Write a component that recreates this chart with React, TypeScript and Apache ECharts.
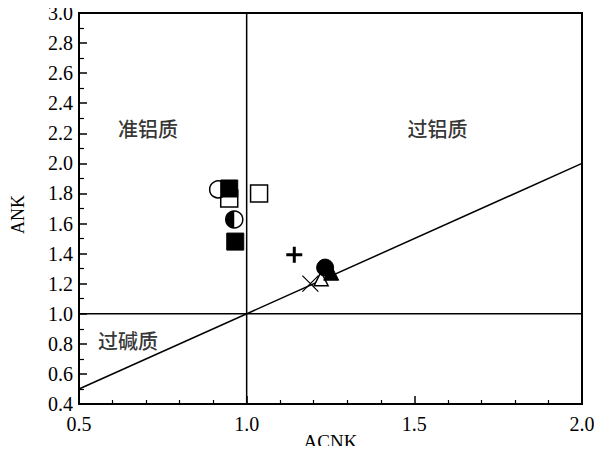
import React, { useEffect, useRef } from "react";
import * as echarts from "echarts";

// Sample points (ACNK, ANK)
const openCircle = [[0.915, 1.827]];
const openSquare = [[0.948, 1.767], [1.037, 1.8]];
const filledSquare = [[0.948, 1.833], [0.966, 1.48]];
const halfCircle = [[0.963, 1.627]];
const plusPts = [[1.142, 1.393]];
const openTriangle = [[1.222, 1.233]];
const crossPts = [[1.19, 1.2]];
const filledTriangle = [[1.252, 1.273]];
const filledCircle = [[1.234, 1.307]];

// Diagram boundaries
const lineACNK1 = [[1.0, 0.4], [1.0, 3.0]];
const lineANK1 = [[0.5, 1.0], [2.0, 1.0]];
const lineDiag = [[0.5, 0.5], [2.0, 2.0]];

// Field labels
const fieldNames = ["准铝质", "过铝质", "过碱质"];
const fieldPos = [[0.706, 2.233], [1.569, 2.233], [0.646, 0.82]];

const serif = "'Liberation Serif', 'DejaVu Serif', serif";

export default function App() {
  const ref = useRef<HTMLDivElement>(null);
  useEffect(() => {
    if (!ref.current) return;
    const chart = echarts.init(ref.current, null, { renderer: "svg" });
    const lineStyle = { color: "#000", width: 1.5 };
    const refLine = (data: number[][]) => ({
      type: "line",
      data,
      symbol: "none",
      lineStyle,
      silent: true,
      z: 3,
    });
    const open = { color: "#fff", borderColor: "#000", borderWidth: 1.5, opacity: 1 };
    const filled = { color: "#000", borderColor: "#000", borderWidth: 1, opacity: 1 };
    chart.setOption({
      animation: false,
      grid: {
        left: 79,
        right: 20,
        top: 13,
        bottom: 50,
        show: true,
        borderColor: "#000",
        borderWidth: 2,
        outerBoundsMode: "none",
        containLabel: false,
      },
      xAxis: {
        type: "value",
        min: 0.5,
        max: 2.0,
        interval: 0.5,
        name: "ACNK",
        nameLocation: "middle",
        nameGap: 28,
        nameMoveOverlap: false,
        nameTextStyle: { fontFamily: serif, fontSize: 19, color: "#000", verticalAlign: "top" },
        axisLine: { show: true, lineStyle: { color: "#000", width: 2 } },
        axisTick: { show: true, inside: true, length: 8, lineStyle: { color: "#000", width: 1.5 } },
        minorTick: { show: true, splitNumber: 5, length: 4, lineStyle: { color: "#000", width: 1.2 } },
        splitLine: { show: false },
        axisLabel: {
          formatter: (v: number) => v.toFixed(1),
          fontFamily: serif,
          fontSize: 20,
          color: "#000",
          margin: 10,
        },
      },
      yAxis: {
        type: "value",
        min: 0.4,
        max: 3.0,
        interval: 0.2,
        name: "ANK",
        nameLocation: "middle",
        nameGap: 52,
        nameMoveOverlap: false,
        nameRotate: 90,
        nameTextStyle: { fontFamily: serif, fontSize: 18, color: "#000", padding: [0, 12, 0, 0] },
        axisLine: { show: true, lineStyle: { color: "#000", width: 2 } },
        axisTick: { show: true, inside: true, length: 8, lineStyle: { color: "#000", width: 1.5 } },
        minorTick: { show: true, splitNumber: 2, length: 5, lineStyle: { color: "#000", width: 1.2 } },
        splitLine: { show: false },
        axisLabel: {
          formatter: (v: number) => v.toFixed(1),
          fontFamily: serif,
          fontSize: 20,
          color: "#000",
          margin: 6,
        },
      },
      series: [
        refLine(lineACNK1),
        refLine(lineANK1),
        refLine(lineDiag),
        {
          type: "scatter",
          data: fieldNames.map((n, i) => ({ name: n, value: fieldPos[i] })),
          symbolSize: 1,
          itemStyle: { color: "rgba(0,0,0,0)" },
          label: {
            show: true,
            position: "inside",
            formatter: "{b}",
            fontFamily: "'Noto Sans CJK SC', sans-serif",
            fontSize: 20,
            fontWeight: 500,
            color: "#000",
          },
          silent: true,
          z: 4,
        },
        { type: "scatter", data: openSquare, symbol: "rect", symbolSize: 17, itemStyle: open, z: 5 },
        { type: "scatter", data: openCircle, symbol: "circle", symbolSize: 17, itemStyle: open, z: 6 },
        { type: "scatter", data: filledSquare, symbol: "rect", symbolSize: 17, itemStyle: filled, z: 7 },
        { type: "scatter", data: halfCircle, symbol: "circle", symbolSize: 17, itemStyle: open, z: 6 },
        {
          type: "scatter",
          data: halfCircle,
          symbol: "path://M10,0 A10,10 0 0 0 10,20 Z",
          symbolSize: [8.5, 17],
          symbolOffset: [-4.25, 0],
          itemStyle: { color: "#000", opacity: 1 },
          z: 7,
        },
        {
          type: "scatter",
          data: plusPts,
          symbol: "path://M6.5,0 L9.5,0 L9.5,6.5 L16,6.5 L16,9.5 L9.5,9.5 L9.5,16 L6.5,16 L6.5,9.5 L0,9.5 L0,6.5 L6.5,6.5 Z",
          symbolSize: 16,
          itemStyle: { color: "#000", opacity: 1 },
          z: 6,
        },
        { type: "scatter", data: openTriangle, symbol: "triangle", symbolSize: 14, itemStyle: open, z: 5 },
        {
          type: "scatter",
          data: crossPts,
          symbol: "path://M0,0 L16,16 M16,0 L0,16",
          symbolSize: 16,
          itemStyle: { color: "none", borderColor: "#000", borderWidth: 1.2, opacity: 1 },
          z: 6,
        },
        { type: "scatter", data: filledTriangle, symbol: "triangle", symbolSize: 15, itemStyle: filled, z: 7 },
        { type: "scatter", data: filledCircle, symbol: "circle", symbolSize: 17, itemStyle: filled, z: 8 },
      ],
    });
    return () => chart.dispose();
  }, []);
  return <div ref={ref} style={{ width: 602, height: 454, margin: -8 }} />;
}
